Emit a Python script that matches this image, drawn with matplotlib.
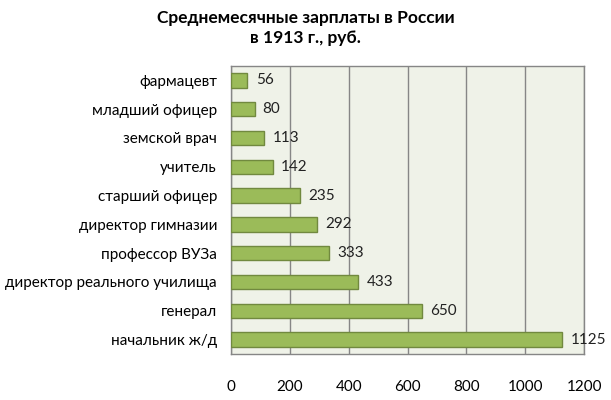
import matplotlib.pyplot as plt

plt.rcParams['font.family'] = ['Lato', 'DejaVu Sans']

jobs = ['фармацевт', 'младший офицер', 'земской врач', 'учитель', 'старший офицер',
        'директор гимназии', 'профессор ВУЗа', 'директор реального училища',
        'генерал', 'начальник ж/д']
salary = [56, 80, 113, 142, 235, 292, 333, 433, 650, 1125]

fig = plt.figure(figsize=(6.11, 4.0), dpi=100)
ax = fig.add_axes([0.378, 0.115, 0.578, 0.72])
ax.set_facecolor('#EFF2E8')

y = list(range(len(jobs)))
ax.barh(y, salary, height=0.5, color='#9BBB59', edgecolor='#71893F', linewidth=1, zorder=3)
for yi, v in zip(y, salary):
    ax.text(v + 28, yi, str(v), va='center', ha='left', fontsize=11, color='#222222', zorder=4)

ax.set_yticks(y)
ax.set_yticklabels(jobs, fontsize=11)
ax.set_ylim(len(jobs) - 0.5, -0.5)
ax.set_xlim(0, 1200)
ax.set_xticks(range(0, 1201, 200))
ax.tick_params(axis='x', labelsize=11, length=0, pad=19)
ax.tick_params(axis='y', length=0, pad=10)
ax.grid(axis='x', color='#868686', linewidth=1, zorder=0)
for s in ax.spines.values():
    s.set_color('#868686')
    s.set_linewidth(1)

fig.suptitle('Среднемесячные зарплаты в России\nв 1913 г., руб.', x=0.5, y=0.975,
             fontsize=12.5, fontweight='bold', linespacing=1.3)

fig.savefig('out.png', dpi=100)
